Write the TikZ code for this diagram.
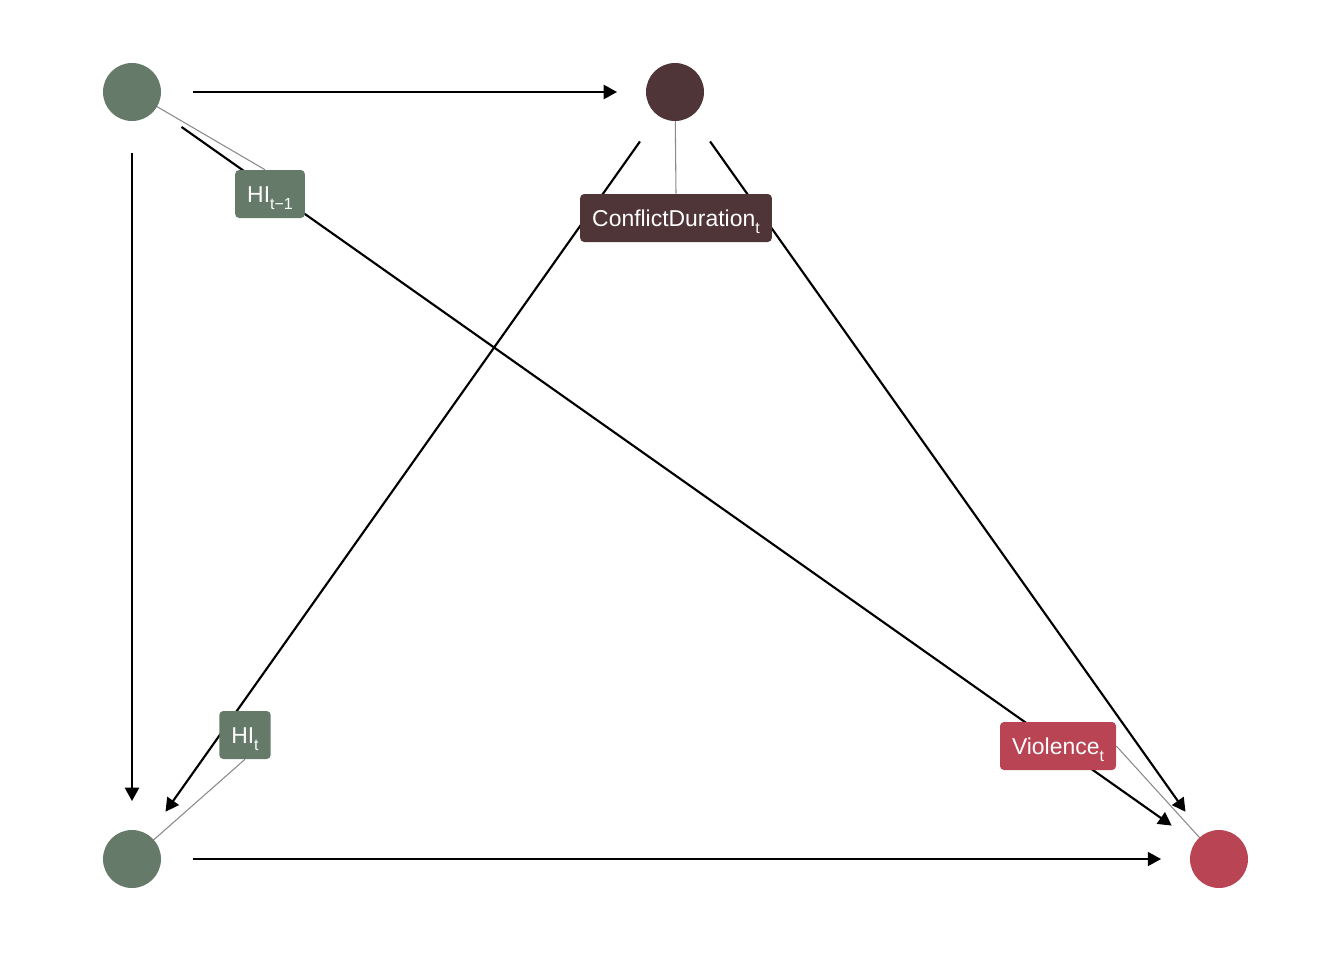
\documentclass[tikz,border=0pt]{standalone}
\usepackage{fontspec}
\setmainfont{Liberation Sans}
\usetikzlibrary{arrows.meta}
\pgfdeclarelayer{bg}
\pgfsetlayers{bg,main}
\definecolor{hicol}{HTML}{667A6A}
\definecolor{durcol}{HTML}{4F3438}
\definecolor{viocol}{HTML}{B94453}
\definecolor{tiecol}{HTML}{8A8A8A}
\newcommand{\sbs}[1]{\raisebox{-0.32em}{\fontsize{12}{12}\selectfont #1}}
\begin{document}
\begin{tikzpicture}[x=0.75pt,y=-0.75pt,
  dot/.style={circle,minimum size=43.5pt,inner sep=0pt,fill=#1},
  lab/.style={rounded corners=3pt,fill=#1,text=white,
    font=\fontsize{17.2}{18}\selectfont,minimum height=36pt,
    text height=12.3pt,text depth=0pt,inner xsep=9pt},
  edge/.style={line width=1.6pt,-{Triangle[length=10pt,width=10.5pt]},
    shorten <=23.5pt,shorten >=21.5pt},
  tie/.style={draw=tiecol,line width=0.8pt}]
\useasboundingbox (0,0) rectangle (1344,960);

% variables
\node[dot=hicol]  (hiprev) at (132,92)  {};
\node[dot=durcol] (dur)    at (675,92)  {};
\node[dot=hicol]  (hinow)  at (132,859) {};
\node[dot=viocol] (vio)    at (1219,859) {};

% labels
\node[lab=hicol]  (lhiprev) at (270,194)  {HI\sbs{t−1}};
\node[lab=durcol] (ldur)    at (676,218)  {ConflictDuration\sbs{t}};
\node[lab=hicol]  (lhinow)  at (245,735)  {HI\sbs{t}};
\node[lab=viocol] (lvio)    at (1058,746) {Violence\sbs{t}};

\begin{pgfonlayer}{bg}
  % label ties
  \draw[tie] (hiprev.center) -- ([xshift=-3.75pt]lhiprev.north);
  \draw[tie] (dur.center) -- (ldur.north);
  \draw[tie] (hinow.center) -- (lhinow.south);
  \draw[tie] (vio.center) -- (lvio.east);
  % causal paths
  \draw[edge] (hiprev) -- (dur);
  \draw[edge] (hiprev) -- (hinow);
  \draw[edge] (hiprev) -- (vio);
  \draw[edge] (dur) -- (hinow);
  \draw[edge] (dur) -- (vio);
  \draw[edge] (hinow) -- (vio);
\end{pgfonlayer}
\end{tikzpicture}
\end{document}
